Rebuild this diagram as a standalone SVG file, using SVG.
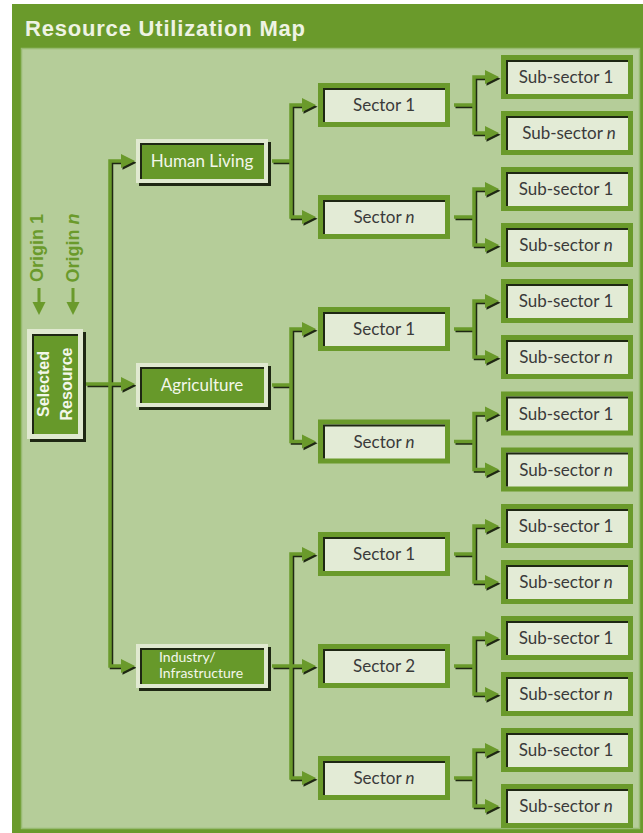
<svg xmlns="http://www.w3.org/2000/svg" xmlns:xlink="http://www.w3.org/1999/xlink" width="643" height="833" viewBox="0 0 643 833">
<style>
.lbl{font-family:Lato,"Liberation Sans",sans-serif;font-size:17px;fill:#3a3a3a;text-anchor:middle}
.wlbl{font-family:Lato,"Liberation Sans",sans-serif;font-size:17px;fill:#f3f7ea;text-anchor:middle}
.wsm{font-family:Lato,"Liberation Sans",sans-serif;font-size:14px;fill:#f3f7ea;text-anchor:start}
.rot{font-family:"Liberation Sans",Arial,sans-serif;font-size:16px;font-weight:bold;text-anchor:middle}
.org{font-family:"Liberation Sans",Arial,sans-serif;font-size:18px;font-weight:bold;text-anchor:middle;fill:#6a9a2b}
.sframe{fill:#6a9a2b}
.sinner{fill:#e3ebd6}
.mframe{fill:#e0e9d0}
.minner{fill:#67992a}
.shadow{fill:#1e2713}
.edge{fill:none;stroke:#1e2713;stroke-width:2}
.cp{fill:none;stroke-width:3.5;stroke-linejoin:miter;stroke-linecap:butt}
</style>
<defs>
  <g id="ah">
    <polygon points="1.5,1.8 -12.5,-5.2 -12.5,8.8" fill="#1e2713"/>
    <polygon points="0,0 -14,-7 -14,7" fill="#6a9a2b"/>
  </g>
  <g id="cpaths" class="cp">
    <path d="M86 384 H124"/>
    <path d="M124 161 H110 V666 H124"/>
    <path d="M272 161 H291"/>
    <path d="M304 105 H291 V217 H304"/>
    <path d="M272 385 H291"/>
    <path d="M304 329 H291 V441.5 H304"/>
    <path d="M272 666 H304"/>
    <path d="M304 554 H291 V778 H304"/>
    <path d="M454 105 H474"/><path d="M487 77 H474 V133 H487"/>
    <path d="M454 217 H474"/><path d="M487 189 H474 V245 H487"/>
    <path d="M454 329 H474"/><path d="M487 301 H474 V357 H487"/>
    <path d="M454 441.5 H474"/><path d="M487 413.5 H474 V469.5 H487"/>
    <path d="M454 554 H474"/><path d="M487 526 H474 V582 H487"/>
    <path d="M454 666 H474"/><path d="M487 638 H474 V694 H487"/>
    <path d="M454 778 H474"/><path d="M487 750 H474 V806 H487"/>
  </g>
</defs>

<!-- frame -->
<rect x="12" y="4" width="631" height="829" fill="#6a9a2b"/>
<rect x="21.5" y="48.5" width="618" height="780" fill="#b5cd99" stroke="#97bb70" stroke-width="1.5"/>
<text x="25" y="36" font-family="'Liberation Sans',Arial,sans-serif" font-size="22" font-weight="bold" letter-spacing="0.8" fill="#eef3e3">Resource Utilization Map</text>

<!-- origins -->
<g id="origins">
  <text class="org" transform="translate(37,248) rotate(-90)" y="6">Origin 1</text>
  <text class="org" transform="translate(73,248) rotate(-90)" y="6">Origin <tspan font-style="italic">n</tspan></text>
  <rect x="37.5" y="288" width="3" height="15" fill="#6a9a2b"/>
  <polygon points="32.5,302 45.5,302 39,315" fill="#6a9a2b"/>
  <rect x="71.5" y="288" width="3" height="15" fill="#6a9a2b"/>
  <polygon points="66.5,302 79.5,302 73,315" fill="#6a9a2b"/>
</g>

<!-- connectors -->
<g id="connectors">
  <use xlink:href="#cpaths" stroke="#1e2713" transform="translate(1.5,1.5)"/>
  <use xlink:href="#cpaths" stroke="#6a9a2b"/>
  <use xlink:href="#ah" x="135" y="161"/>
  <use xlink:href="#ah" x="135" y="384"/>
  <use xlink:href="#ah" x="135" y="666"/>
  <use xlink:href="#ah" x="316" y="105"/>
  <use xlink:href="#ah" x="316" y="217"/>
  <use xlink:href="#ah" x="316" y="329"/>
  <use xlink:href="#ah" x="316" y="441.5"/>
  <use xlink:href="#ah" x="316" y="554"/>
  <use xlink:href="#ah" x="316" y="666"/>
  <use xlink:href="#ah" x="316" y="778"/>
  <use xlink:href="#ah" x="499" y="77"/>
  <use xlink:href="#ah" x="499" y="133"/>
  <use xlink:href="#ah" x="499" y="189"/>
  <use xlink:href="#ah" x="499" y="245"/>
  <use xlink:href="#ah" x="499" y="301"/>
  <use xlink:href="#ah" x="499" y="357"/>
  <use xlink:href="#ah" x="499" y="413.5"/>
  <use xlink:href="#ah" x="499" y="469.5"/>
  <use xlink:href="#ah" x="499" y="526"/>
  <use xlink:href="#ah" x="499" y="582"/>
  <use xlink:href="#ah" x="499" y="638"/>
  <use xlink:href="#ah" x="499" y="694"/>
  <use xlink:href="#ah" x="499" y="750"/>
  <use xlink:href="#ah" x="499" y="806"/>
</g>

<!-- selected resource -->
<g id="node-selected">
  <rect class="shadow" x="30" y="332" width="56" height="110"/>
  <rect class="mframe" x="27" y="329" width="56" height="110"/>
  <rect class="minner" x="32" y="334" width="46" height="100"/>
  <path class="edge" d="M33 434 V335 H78"/>
  <text class="rot" fill="#f3f7ea" transform="translate(43,384) rotate(-90)" y="6">Selected</text>
  <text class="rot" fill="#f3f7ea" transform="translate(66,384) rotate(-90)" y="6">Resource</text>
</g>

<!-- main categories -->
<g id="node-human">
  <rect class="shadow" x="139" y="142" width="132" height="44"/>
  <rect class="mframe" x="136" y="139" width="132" height="44"/>
  <rect class="minner" x="140" y="143" width="124" height="36"/>
  <path class="edge" d="M141 179 V144 H264"/>
  <text class="wlbl" x="202" y="167">Human Living</text>
</g>
<g id="node-agri">
  <rect class="shadow" x="139" y="366" width="132" height="44"/>
  <rect class="mframe" x="136" y="363" width="132" height="44"/>
  <rect class="minner" x="140" y="367" width="124" height="36"/>
  <path class="edge" d="M141 403 V368 H264"/>
  <text class="wlbl" x="202" y="391">Agriculture</text>
</g>
<g id="node-industry">
  <rect class="shadow" x="139" y="647" width="132" height="44"/>
  <rect class="mframe" x="136" y="644" width="132" height="44"/>
  <rect class="minner" x="140" y="648" width="124" height="36"/>
  <path class="edge" d="M141 684 V649 H264"/>
  <text class="wsm" x="159" y="662">Industry/</text>
  <text class="wsm" x="159" y="678">Infrastructure</text>
</g>

<!-- sectors -->
<g id="sector-hl-1"><rect class="sframe" x="318" y="83" width="132" height="44"/><rect class="sinner" x="323" y="88" width="122" height="34"/><path class="edge" d="M324 122 V89 H445"/><text class="lbl" x="384" y="111">Sector 1</text></g>
<g id="sector-hl-n"><rect class="sframe" x="318" y="195" width="132" height="44"/><rect class="sinner" x="323" y="200" width="122" height="34"/><path class="edge" d="M324 234 V201 H445"/><text class="lbl" x="384" y="223">Sector <tspan font-style="italic">n</tspan></text></g>
<g id="sector-ag-1"><rect class="sframe" x="318" y="307" width="132" height="44"/><rect class="sinner" x="323" y="312" width="122" height="34"/><path class="edge" d="M324 346 V313 H445"/><text class="lbl" x="384" y="335">Sector 1</text></g>
<g id="sector-ag-n"><rect class="sframe" x="318" y="419.5" width="132" height="44"/><rect class="sinner" x="323" y="424.5" width="122" height="34"/><path class="edge" d="M324 458.5 V425.5 H445"/><text class="lbl" x="384" y="447.5">Sector <tspan font-style="italic">n</tspan></text></g>
<g id="sector-in-1"><rect class="sframe" x="318" y="532" width="132" height="44"/><rect class="sinner" x="323" y="537" width="122" height="34"/><path class="edge" d="M324 571 V538 H445"/><text class="lbl" x="384" y="560">Sector 1</text></g>
<g id="sector-in-2"><rect class="sframe" x="318" y="644" width="132" height="44"/><rect class="sinner" x="323" y="649" width="122" height="34"/><path class="edge" d="M324 683 V650 H445"/><text class="lbl" x="384" y="672">Sector 2</text></g>
<g id="sector-in-n"><rect class="sframe" x="318" y="756" width="132" height="44"/><rect class="sinner" x="323" y="761" width="122" height="34"/><path class="edge" d="M324 795 V762 H445"/><text class="lbl" x="384" y="784">Sector <tspan font-style="italic">n</tspan></text></g>

<!-- sub-sectors -->
<g id="sub-1"><rect class="sframe" x="501" y="55" width="132" height="44"/><rect class="sinner" x="506" y="60" width="122" height="34"/><path class="edge" d="M507 94 V61 H628"/><text class="lbl" x="566" y="83">Sub-sector 1</text></g>
<g id="sub-2"><rect class="sframe" x="501" y="111" width="132" height="44"/><rect class="sinner" x="506" y="116" width="122" height="34"/><path class="edge" d="M507 150 V117 H628"/><text class="lbl" x="569" y="139">Sub-sector <tspan font-style="italic">n</tspan></text></g>
<g id="sub-3"><rect class="sframe" x="501" y="167" width="132" height="44"/><rect class="sinner" x="506" y="172" width="122" height="34"/><path class="edge" d="M507 206 V173 H628"/><text class="lbl" x="566" y="195">Sub-sector 1</text></g>
<g id="sub-4"><rect class="sframe" x="501" y="223" width="132" height="44"/><rect class="sinner" x="506" y="228" width="122" height="34"/><path class="edge" d="M507 262 V229 H628"/><text class="lbl" x="566" y="251">Sub-sector <tspan font-style="italic">n</tspan></text></g>
<g id="sub-5"><rect class="sframe" x="501" y="279" width="132" height="44"/><rect class="sinner" x="506" y="284" width="122" height="34"/><path class="edge" d="M507 318 V285 H628"/><text class="lbl" x="566" y="307">Sub-sector 1</text></g>
<g id="sub-6"><rect class="sframe" x="501" y="335" width="132" height="44"/><rect class="sinner" x="506" y="340" width="122" height="34"/><path class="edge" d="M507 374 V341 H628"/><text class="lbl" x="566" y="363">Sub-sector <tspan font-style="italic">n</tspan></text></g>
<g id="sub-7"><rect class="sframe" x="501" y="391.5" width="132" height="44"/><rect class="sinner" x="506" y="396.5" width="122" height="34"/><path class="edge" d="M507 430.5 V397.5 H628"/><text class="lbl" x="566" y="419.5">Sub-sector 1</text></g>
<g id="sub-8"><rect class="sframe" x="501" y="447.5" width="132" height="44"/><rect class="sinner" x="506" y="452.5" width="122" height="34"/><path class="edge" d="M507 486.5 V453.5 H628"/><text class="lbl" x="566" y="475.5">Sub-sector <tspan font-style="italic">n</tspan></text></g>
<g id="sub-9"><rect class="sframe" x="501" y="504" width="132" height="44"/><rect class="sinner" x="506" y="509" width="122" height="34"/><path class="edge" d="M507 543 V510 H628"/><text class="lbl" x="566" y="532">Sub-sector 1</text></g>
<g id="sub-10"><rect class="sframe" x="501" y="560" width="132" height="44"/><rect class="sinner" x="506" y="565" width="122" height="34"/><path class="edge" d="M507 599 V566 H628"/><text class="lbl" x="566" y="588">Sub-sector <tspan font-style="italic">n</tspan></text></g>
<g id="sub-11"><rect class="sframe" x="501" y="616" width="132" height="44"/><rect class="sinner" x="506" y="621" width="122" height="34"/><path class="edge" d="M507 655 V622 H628"/><text class="lbl" x="566" y="644">Sub-sector 1</text></g>
<g id="sub-12"><rect class="sframe" x="501" y="672" width="132" height="44"/><rect class="sinner" x="506" y="677" width="122" height="34"/><path class="edge" d="M507 711 V678 H628"/><text class="lbl" x="566" y="700">Sub-sector <tspan font-style="italic">n</tspan></text></g>
<g id="sub-13"><rect class="sframe" x="501" y="728" width="132" height="44"/><rect class="sinner" x="506" y="733" width="122" height="34"/><path class="edge" d="M507 767 V734 H628"/><text class="lbl" x="566" y="756">Sub-sector 1</text></g>
<g id="sub-14"><rect class="sframe" x="501" y="784" width="132" height="44"/><rect class="sinner" x="506" y="789" width="122" height="34"/><path class="edge" d="M507 823 V790 H628"/><text class="lbl" x="566" y="812">Sub-sector <tspan font-style="italic">n</tspan></text></g>
</svg>
